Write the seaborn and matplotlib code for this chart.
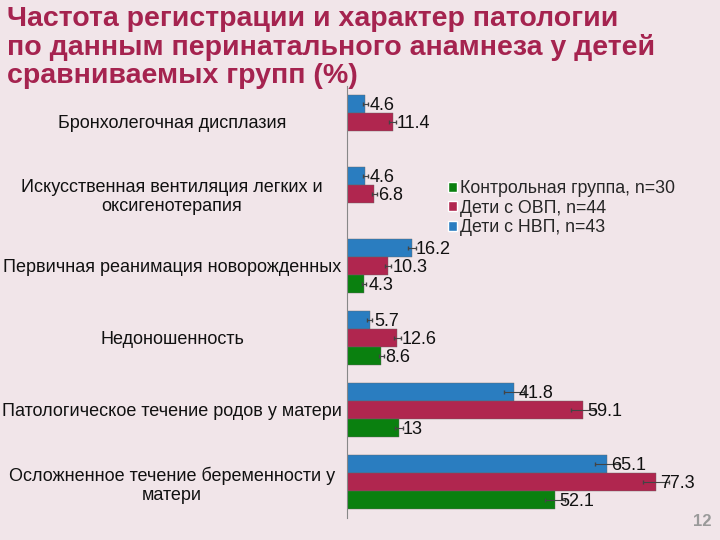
import numpy as np
import pandas as pd
import seaborn as sns
import matplotlib.pyplot as plt
from matplotlib.patches import Patch

categories = [
    'Бронхолегочная дисплазия',
    'Искусственная вентиляция легких и\nоксигенотерапия',
    'Первичная реанимация новорожденных',
    'Недоношенность',
    'Патологическое течение родов у матери',
    'Осложненное течение беременности у\nматери',
]
groups = ['Дети с НВП, n=43', 'Дети с ОВП, n=44', 'Контрольная группа, n=30']
nvp = [4.6, 4.6, 16.2, 5.7, 41.8, 65.1]
ovp = [11.4, 6.8, 10.3, 12.6, 59.1, 77.3]
control = [np.nan, np.nan, 4.3, 8.6, 13.0, 52.1]
err_nvp = [0.6, 0.6, 1.0, 0.6, 2.5, 3.0]
err_ovp = [0.8, 0.6, 0.8, 0.9, 3.0, 3.2]
err_control = [np.nan, np.nan, 0.5, 0.7, 1.0, 2.5]
colors = {'Дети с НВП, n=43': '#2A7DC0', 'Дети с ОВП, n=44': '#B0264F',
          'Контрольная группа, n=30': '#0A800F'}

df = pd.DataFrame({
    'cat': categories * 3,
    'group': [g for g in groups for _ in categories],
    'val': nvp + ovp + control,
})

sns.set_style('white')
plt.rcParams['font.family'] = ['Liberation Sans', 'DejaVu Sans']
bg = '#F1E5E9'
fig = plt.figure(figsize=(7.2, 5.4), dpi=100, facecolor=bg)
ax = fig.add_axes([0.482, 0.041, 0.5, 0.8])
ax.set_facecolor(bg)

sns.barplot(data=df, y='cat', x='val', hue='group', hue_order=groups,
            palette=colors, saturation=1, width=0.75, orient='h', ax=ax,
            edgecolor='#666666', linewidth=0.3, legend=False)

errs = [err_nvp, err_ovp, err_control]
vals = [nvp, ovp, control]
offs = [-0.25, 0.0, 0.25]
for v, e, o in zip(vals, errs, offs):
    for i in range(len(categories)):
        if np.isnan(v[i]):
            continue
        ax.errorbar(v[i], i + o, xerr=e[i], fmt='none', ecolor='#444444',
                    elinewidth=0.8, capsize=1.5)
        ax.text(v[i] + 1.0, i + o + 0.02, f'{v[i]:g}', va='center', ha='left',
                fontsize=13, color='#111111')

ax.set_xlim(0, 90)
ax.set_ylim(5.5, -0.5)
ax.set_xlabel('')
ax.set_ylabel('')
ax.set_xticks([])
ax.set_yticks(range(len(categories)))
ax.set_yticklabels(categories, ha='center', multialignment='center',
                   fontsize=13, color='#111111')
ax.tick_params(axis='y', length=0, pad=126)
for s in ['top', 'right', 'bottom']:
    ax.spines[s].set_visible(False)
ax.spines['left'].set_color('#888888')
ax.spines['left'].set_linewidth(0.8)

# legend order: control first
order = ['Контрольная группа, n=30', 'Дети с ОВП, n=44', 'Дети с НВП, n=43']
handles = [Patch(facecolor=colors[g], label=g) for g in order]
fig.legend(handles=handles, loc='upper left', bbox_to_anchor=(0.612, 0.680),
           frameon=False, fontsize=12.8, handlelength=0.5, handleheight=0.5,
           handletextpad=0.2, labelspacing=0.15, borderaxespad=0)

fig.text(0.01, 0.988, 'Частота регистрации и характер патологии\n'
         'по данным перинатального анамнеза у детей\nсравниваемых групп (%)',
         ha='left', va='top', fontsize=20.5, fontweight='bold', color='#A5234F',
         linespacing=1.08)
fig.text(0.988, 0.02, '12', ha='right', va='bottom', fontsize=12,
         fontweight='bold', color='#9A9A9A')

fig.savefig('out.png', dpi=100, facecolor=bg)
